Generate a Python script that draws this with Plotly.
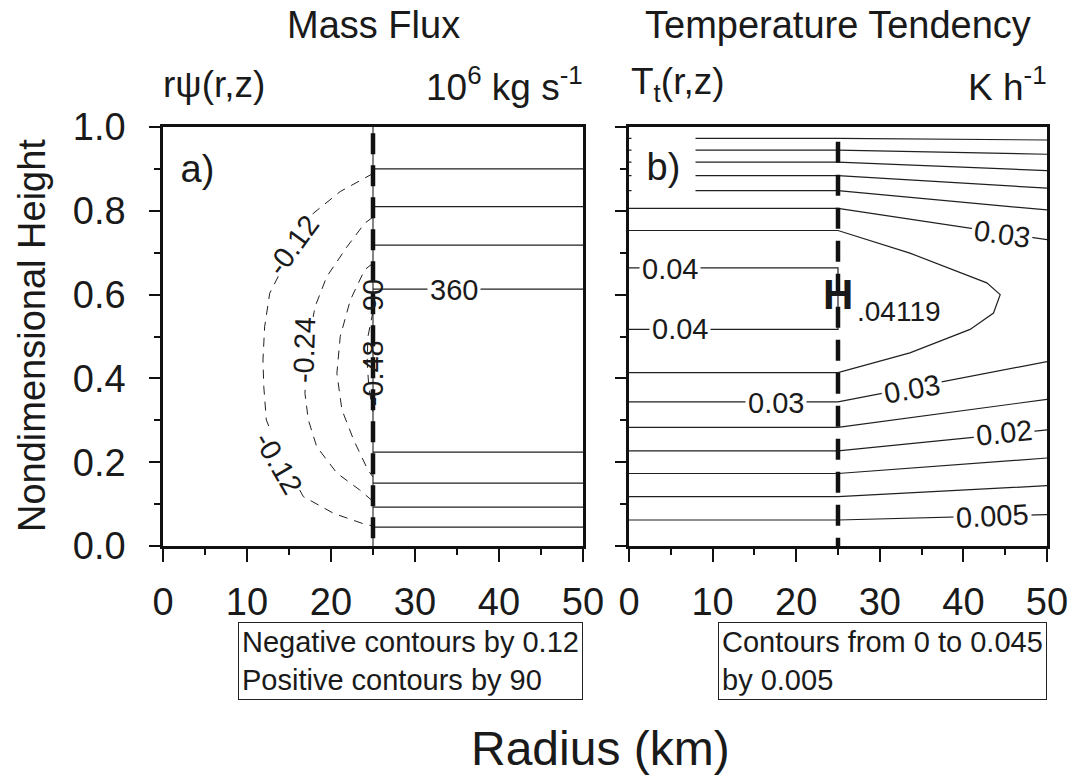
import plotly.graph_objects as go

# ---------------- Panel a) Mass flux  r*psi(r,z)  (10^6 kg s^-1) ----------------
pos_levels = [90, 180, 270, 360]
pos_z_upper = [0.900, 0.810, 0.718, 0.613]
pos_z_lower = [0.045, 0.093, 0.150, 0.224]
pos_r = [25, 50]

neg_levels = [-0.12, -0.24, -0.36, -0.48]
neg_m012_r = [25.0, 21.1, 17.9, 15.9, 12.7, 12.1, 11.9, 12.0, 12.3, 13.9, 16.7, 20.3, 24.0, 25.0]
neg_m012_z = [0.889, 0.846, 0.794, 0.730, 0.603, 0.523, 0.444, 0.380, 0.301, 0.221, 0.118, 0.078, 0.052, 0.048]
neg_m024_r = [25.0, 24.0, 21.9, 19.5, 18.1, 17.1, 16.9, 17.3, 18.3, 20.7, 23.4, 24.8]
neg_m024_z = [0.785, 0.770, 0.714, 0.643, 0.571, 0.460, 0.364, 0.301, 0.237, 0.174, 0.134, 0.110]
neg_m036_r = [25.0, 24.0, 22.3, 21.1, 20.7, 21.3, 22.7, 24.4, 25.0]
neg_m036_z = [0.675, 0.659, 0.587, 0.500, 0.412, 0.325, 0.253, 0.181, 0.165]
neg_m048_r = [25.0, 24.4, 24.3, 24.5, 25.0]
neg_m048_z = [0.56, 0.50, 0.44, 0.38, 0.32]

# ---------------- Panel b) Temperature tendency  T_t(r,z)  (K h^-1) ----------------
tt_levels = [0.005, 0.010, 0.015, 0.020, 0.025, 0.030, 0.035, 0.040]
tt_upper_inner = [0.973, 0.945, 0.916, 0.884, 0.848, 0.806, 0.753, 0.664]
tt_upper_outer = [0.969, 0.935, 0.896, 0.854, 0.802, 0.731]
tt_lower_inner = [0.062, 0.118, 0.173, 0.227, 0.283, 0.344, 0.414, 0.517]
tt_lower_outer = [0.075, 0.144, 0.210, 0.277, 0.350, 0.440]
tt_035_r = [25.0, 33.6, 39.6, 42.8, 44.4, 43.6, 40.8, 33.6, 25.0]
tt_035_z = [0.753, 0.699, 0.652, 0.628, 0.600, 0.556, 0.517, 0.461, 0.414]
tt_max_value = 0.04119
tt_max_r, tt_max_z = 25.0, 0.60

eye_r = 25.0
r_range = [0, 50]
x_ticks = [0, 10, 20, 30, 40, 50]
y_ticks = [0.0, 0.2, 0.4, 0.6, 0.8, 1.0]

FONT = "Liberation Sans, Arial, Helvetica, sans-serif"
INK = "#1a1a1a"
LINE = "#202020"

fig = go.Figure()

def add_line(xs, ys, panel, dash="solid", width=1.2, color=LINE):
    fig.add_trace(go.Scatter(
        x=xs, y=ys, mode="lines", xaxis="x" if panel == 1 else "x2",
        yaxis="y" if panel == 1 else "y2", showlegend=False, hoverinfo="skip",
        line=dict(color=color, width=width, dash=dash)))

# Panel a: zero contour along eyewall
add_line([eye_r, eye_r], [0, 1], 1, width=1.1)
# positive contours
for zu, zl in zip(pos_z_upper, pos_z_lower):
    add_line(pos_r, [zu, zu], 1)
    add_line(pos_r, [zl, zl], 1)
# negative contours (dashed)
for rr, zz in [(neg_m012_r, neg_m012_z), (neg_m024_r, neg_m024_z),
               (neg_m036_r, neg_m036_z), (neg_m048_r, neg_m048_z)]:
    add_line(rr, zz, 1, dash="9px,7px", width=1.0)
# eyewall thick dashed line
add_line([eye_r, eye_r], [0.985, 0.0], 1, dash="21px,11px", width=4.5, color="#111")

# Panel b contours
for i in range(6):
    add_line([0, eye_r, 50], [tt_upper_inner[i], tt_upper_inner[i], tt_upper_outer[i]], 2)
    add_line([0, eye_r, 50], [tt_lower_inner[i], tt_lower_inner[i], tt_lower_outer[i]], 2)
add_line([0] + tt_035_r + [0], [tt_upper_inner[6]] + tt_035_z + [tt_lower_inner[6]], 2)
add_line([0, eye_r, eye_r, 0], [tt_upper_inner[7], tt_upper_inner[7], tt_lower_inner[7], tt_lower_inner[7]], 2)
add_line([eye_r, eye_r], [0.965, 0.0], 2, dash="21px,12px", width=4.5, color="#111")

def axis_common(domain):
    return dict(domain=domain, range=r_range, showline=True, linewidth=2.6, linecolor="#111",
                mirror=True, ticks="outside", ticklen=13, tickwidth=2, tickcolor="#111",
                tickvals=x_ticks, showgrid=False, zeroline=False, automargin=False,
                tickfont=dict(family=FONT, size=38, color=INK), ticklabelstandoff=8,
                minor=dict(dtick=5, ticklen=6, tickwidth=1.5, ticks="outside", tickcolor="#111", showgrid=False))

def yaxis_common(anchor, labels):
    return dict(domain=[0, 1], range=[0, 1], anchor=anchor, showline=True, linewidth=2.6,
                linecolor="#111", mirror=True, ticks="outside", ticklen=11, tickwidth=2,
                tickcolor="#111", tickvals=y_ticks, tickformat=".1f", showticklabels=labels,
                showgrid=False, zeroline=False, automargin=False,
                tickfont=dict(family=FONT, size=38, color=INK), ticklabelstandoff=16,
                minor=dict(dtick=0.1, ticklen=6, tickwidth=1.5, ticks="outside", tickcolor="#111", showgrid=False))

W_PLOT = 884.0
d1 = [0, 420 / W_PLOT]
d2 = [466 / W_PLOT, 1]

fig.update_layout(
    width=1072, height=779, autosize=False,
    margin=dict(l=163, r=25, t=127, b=233, autoexpand=False),
    paper_bgcolor="white", plot_bgcolor="white",
    font=dict(family=FONT, color=INK),
    xaxis=dict(axis_common(d1), anchor="y"),
    xaxis2=dict(axis_common(d2), anchor="y2"),
    yaxis=yaxis_common("x", True),
    yaxis2=yaxis_common("x2", False),
)

ann = []
def A(text, x, y, size, xref="paper", yref="paper", **kw):
    d = dict(text=text, x=x, y=y, xref=xref, yref=yref, showarrow=False,
             xanchor="center", yanchor="middle",
             font=dict(family=FONT, size=size, color=INK))
    d.update(kw)
    ann.append(d)

def py(p):  # pixel y -> paper y
    return (546 - p) / 419.0
def px(p):  # pixel x -> paper x
    return (p - 163) / W_PLOT

# Titles and sub-headers
A("Mass Flux", px(373), py(25), 38)
A("Temperature Tendency", px(838), py(25), 38)
A("r\u03c8(r,z)", px(161), py(84), 37, xanchor="left")
A("10<sup>6</sup> kg s<sup>-1</sup>", px(585), py(84), 37, xanchor="right")
A("T<sub>t</sub>(r,z)", px(629), py(84), 37, xanchor="left")
A("K h<sup>-1</sup>", px(1049), py(84), 37, xanchor="right")
A("Nondimensional Height", px(32), py(336), 38, textangle=-90)
A("Radius (km)", px(600), py(748), 48)

# Info boxes
A("Negative contours by 0.12<br>Positive contours by 90", px(583), py(622), 29,
  xanchor="right", yanchor="top", align="left", bordercolor="#222", borderwidth=1,
  borderpad=3, bgcolor="white", width=337)
A("Contours from 0 to 0.045<br>by 0.005", px(1047), py(622), 29,
  xanchor="right", yanchor="top", align="left", bordercolor="#222", borderwidth=1,
  borderpad=3, bgcolor="white", width=321)

# Panel labels
A("a)", 4.1, 0.90, 38, xref="x", yref="y", bgcolor="white", width=61, height=68)
A("b)", 4.1, 0.905, 38, xref="x2", yref="y2", bgcolor="white", width=61, height=68)

# Contour labels panel a
A("-0.12", 15.5, 0.718, 29, xref="x", yref="y", textangle=-54, bgcolor="white", borderpad=0)
A("-0.24", 16.8, 0.468, 29, xref="x", yref="y", textangle=-88, bgcolor="white", borderpad=0)
A("-0.12", 13.7, 0.197, 29, xref="x", yref="y", textangle=60, bgcolor="white", borderpad=0)
A("-0.48", 25.0, 0.412, 29, xref="x", yref="y", textangle=-90)
A("90", 25.0, 0.599, 29, xref="x", yref="y", textangle=-90)
A("360", 34.6, 0.611, 29, xref="x", yref="y", bgcolor="white", borderpad=2)

# Contour labels panel b
A("0.04", 4.94, 0.660, 29, xref="x2", yref="y2", bgcolor="white", borderpad=2)
A("0.04", 6.14, 0.517, 29, xref="x2", yref="y2", bgcolor="white", borderpad=2)
A("0.03", 17.6, 0.342, 29, xref="x2", yref="y2", bgcolor="white", borderpad=2)
A("0.03", 33.9, 0.374, 29, xref="x2", yref="y2", textangle=-10, bgcolor="white", borderpad=2)
A("0.02", 44.8, 0.269, 29, xref="x2", yref="y2", textangle=-6, bgcolor="white", borderpad=2)
A("0.005", 43.5, 0.0707, 29, xref="x2", yref="y2", textangle=-3, bgcolor="white", borderpad=2)
A("0.03", 44.6, 0.745, 29, xref="x2", yref="y2", textangle=8, bgcolor="white", borderpad=2)
A("<b>H</b>", tt_max_r, tt_max_z, 42, xref="x2", yref="y2")
A("." + f"{tt_max_value:.5f}".split(".")[1], 27.0, 0.560, 28, xref="x2", yref="y2", xanchor="left")

fig.update_layout(annotations=ann)
fig.write_html("out.html")
